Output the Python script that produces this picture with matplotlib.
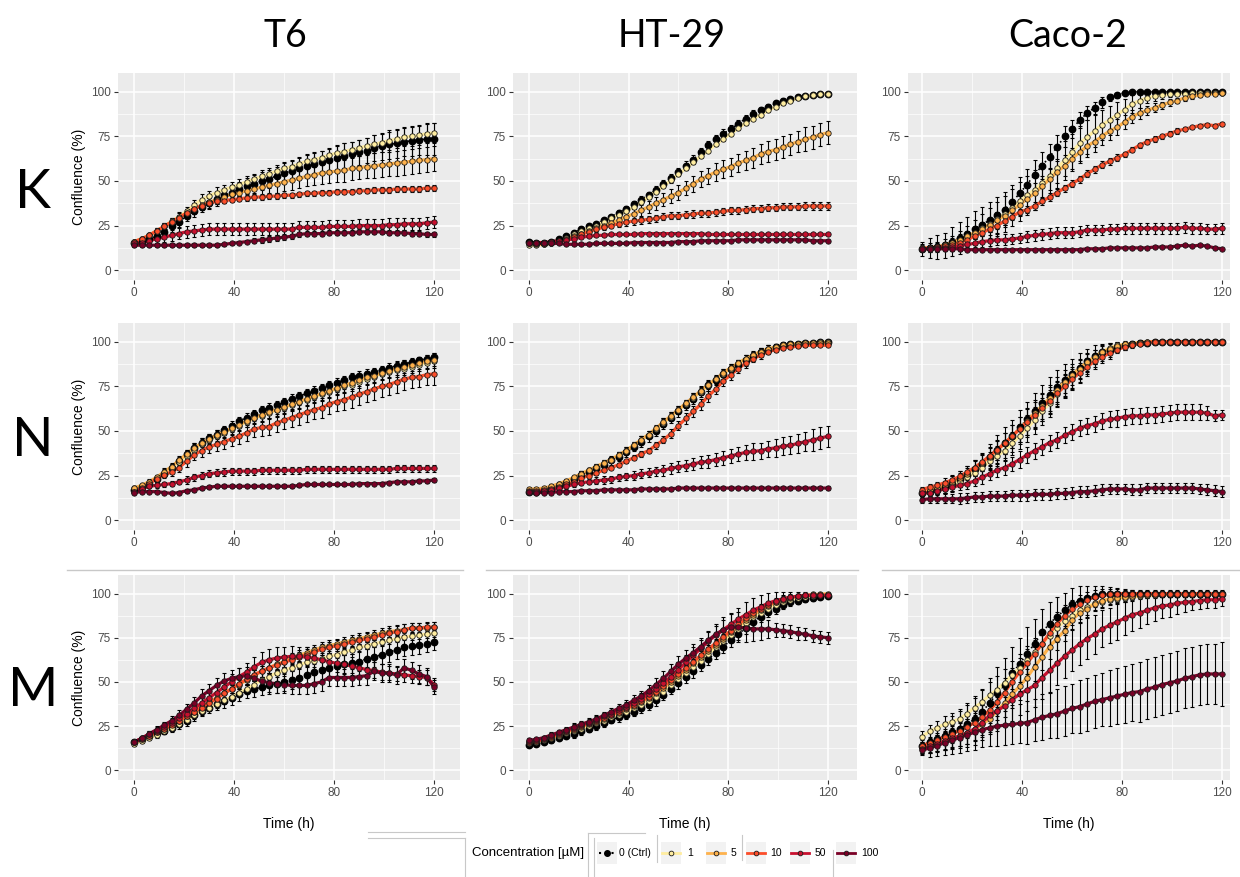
import matplotlib
matplotlib.use("Agg")
import matplotlib.pyplot as plt
import numpy as np

# time points (h)
time_h = [0, 3, 6, 9, 12, 15, 18, 21, 24, 27,
          30, 33, 36, 39, 42, 45, 48, 51, 54, 57,
          60, 63, 66, 69, 72, 75, 78, 81, 84, 87,
          90, 93, 96, 99, 102, 105, 108, 111, 114, 117,
          120]

conc_labels = ['0 (Ctrl)', '1', '5', '10', '50', '100']
conc_colors = ['#000000', '#FFEDA0', '#FEB24C', '#FC4E2A', '#C8102E', '#7A0026']
cell_lines = ['T6', 'HT-29', 'Caco-2']
row_labels = ['K', 'N', 'M']

# ---------------- T6 / K ----------------
t6_k_c0 = [15, 16, 17.5, 19, 21.5, 24.5, 27, 30.5, 33, 35.5,
           37.5, 40, 42, 43.5, 45.5, 47, 48.5, 50, 51, 53,
           54.5, 55.5, 57, 58.5, 59.5, 60.5, 61.5, 63, 64, 65,
           66, 67, 68.5, 69.5, 70.5, 71, 72, 72.5, 73, 73.5,
           73.5]
t6_k_c0_err = [1, 1, 1.5, 2, 2.5, 3, 3, 3, 3, 3,
               3, 3, 3.5, 4, 4, 4.5, 5, 5, 5, 5,
               5.5, 5.5, 6, 6, 6, 6.5, 6.5, 7, 7, 7,
               7, 7, 7.5, 7.5, 8, 8, 8, 8.5, 8.5, 9,
               9]
t6_k_c1 = [16, 17.5, 19.5, 22, 24.5, 27.5, 30, 33, 36.5, 39.5,
           41.5, 43.5, 45, 46.5, 48, 49.5, 51, 52.5, 54, 55.5,
           57, 58, 59.5, 61, 62, 63, 64.5, 65.5, 66.5, 67.5,
           68.5, 69.5, 70.5, 71.5, 72.5, 73.5, 74.5, 75, 75.5, 76.5,
           77]
t6_k_c1_err = [1, 1, 1, 1.5, 2, 2, 2.5, 2.5, 3, 3,
               3, 3, 3, 3, 3, 3, 3, 3.5, 3.5, 3.5,
               3.5, 3.5, 4, 4, 4, 4, 4, 4, 4.5, 4.5,
               4.5, 4.5, 5, 5, 5, 5, 5, 5.5, 5.5, 5.5,
               5.5]
t6_k_c5 = [16, 17.5, 19.5, 22, 24.5, 27, 29.5, 32, 34.5, 36.5,
           38, 39.5, 41, 42.5, 43.5, 44.5, 45.5, 46.5, 47.5, 48.5,
           49.5, 50.5, 51.5, 52.5, 53.5, 54.5, 55, 55.5, 56, 57,
           57.5, 58, 58.5, 59, 59.5, 60, 60.5, 61, 61.5, 62,
           62.5]
t6_k_c5_err = [1, 1, 1, 1.5, 2, 2, 2.5, 2.5, 3, 3,
               3, 3.5, 3.5, 4, 4, 4.5, 4.5, 5, 5, 5,
               5, 5.5, 5.5, 5.5, 6, 6, 6, 6, 6.5, 6.5,
               6.5, 6.5, 7, 7, 7, 7, 7, 7, 7, 7,
               7]
t6_k_c10 = [16, 17.5, 19.5, 22, 24.5, 27, 29.5, 32, 34.5, 36,
            37.5, 38.5, 39, 39.5, 40, 40.5, 41, 41, 41.5, 41.5,
            42, 42, 42.5, 43, 43, 43.5, 43.5, 44, 44, 44,
            44.5, 44.5, 45, 45, 45, 45.5, 45.5, 45.5, 45.5, 46,
            46]
t6_k_c10_err = [1, 1, 1, 1, 1.5, 1.5, 1.5, 1.5, 1.5, 1.5,
                1.5, 1.5, 1.5, 1.5, 1.5, 1.5, 1.5, 1.5, 1.5, 1.5,
                1.5, 1.5, 1.5, 1.5, 1.5, 1.5, 1.5, 1.5, 1.5, 1.5,
                1.5, 1.5, 1.5, 1.5, 1.5, 1.5, 1.5, 1.5, 1.5, 1.5,
                1.5]
t6_k_c50 = [15, 15.5, 16.5, 17.5, 18.5, 19.5, 20.5, 21.5, 22, 22.5,
            23, 23, 23, 23, 23, 23, 23, 23, 23, 23,
            23, 23, 24, 24, 24, 24, 24.5, 24.5, 24.5, 24.5,
            25, 25, 25, 25, 25.5, 25.5, 26, 26, 26, 26.5,
            27]
t6_k_c50_err = [1, 1.5, 2, 2, 2.5, 3, 3, 3.5, 3.5, 3.5,
                3.5, 3.5, 3.5, 3.5, 3.5, 3.5, 3.5, 3.5, 3.5, 3.5,
                3.5, 3.5, 3.5, 3.5, 3.5, 3.5, 3.5, 3.5, 3.5, 3.5,
                3.5, 3.5, 3.5, 3.5, 3.5, 3.5, 3.5, 3.5, 3.5, 3.5,
                3.5]
t6_k_c100 = [14, 14, 14, 14, 14, 14, 14, 14, 14, 14,
             14, 14, 14.5, 15, 15.5, 16, 16.5, 17, 17.5, 18,
             18.5, 19, 20, 20.5, 20.5, 20.5, 21, 21, 21, 21,
             21.5, 21.5, 21.5, 21.5, 21, 21, 21, 20.5, 20.5, 20,
             20]
t6_k_c100_err = [1, 1, 1, 1, 1, 1, 1, 1, 1, 1,
                 1, 1, 1, 1, 1, 1, 1.5, 1.5, 1.5, 1.5,
                 1.5, 1.5, 1.5, 1.5, 1.5, 1.5, 1.5, 1.5, 1.5, 1.5,
                 1.5, 1.5, 1.5, 1.5, 1.5, 1.5, 1.5, 1.5, 1.5, 1.5,
                 1.5]

# ---------------- HT-29 / K ----------------
ht_k_c0 = [16, 15.5, 15.5, 16, 17.5, 19, 21, 23, 24.5, 26,
           28, 30, 32, 34.5, 37, 39.5, 42, 45, 48.5, 51.5,
           55, 58.5, 62, 66, 70, 73.5, 76.5, 79, 82, 85,
           87.5, 89.5, 91.5, 93.5, 95, 96, 97, 97.5, 98, 98.5,
           99]
ht_k_c0_err = [1, 1, 1, 1, 1, 1, 1, 1, 1, 1,
               1, 1, 1.5, 1.5, 1.5, 2, 2, 2, 2, 2.5,
               2.5, 2.5, 2.5, 2.5, 2.5, 2.5, 2.5, 2.5, 2, 2,
               2, 2, 1.5, 1.5, 1.5, 1, 1, 1, 0.5, 0.5,
               0.5]
ht_k_c1 = [14, 14, 14.5, 15.5, 16.5, 18, 20, 22, 23.5, 25,
           27, 29, 31, 33, 35.5, 38, 41, 44, 47, 50.5,
           54, 57, 60.5, 64, 67, 70.5, 73.5, 76.5, 79.5, 82.5,
           85, 87, 89.5, 91.5, 93.5, 95, 96.5, 97.5, 98, 98.5,
           99]
ht_k_c1_err = [0.5, 0.5, 0.5, 0.5, 0.5, 0.5, 1, 1, 1, 1,
               1, 1, 1, 1, 1, 1, 1, 1, 1, 1,
               1, 1, 1, 1, 1, 1, 1, 1, 1, 1,
               1, 1, 1, 1, 1, 1, 0.5, 0.5, 0.5, 0.5,
               0.5]
ht_k_c5 = [15, 14.5, 14.5, 15, 16, 17.5, 19, 20.5, 22, 23.5,
           25, 26.5, 28, 30, 31.5, 33.5, 35.5, 37.5, 39.5, 41.5,
           43.5, 46, 48.5, 51, 53, 55, 56.5, 58, 60, 61.5,
           63, 65, 66.5, 67.5, 69, 70.5, 72, 73.5, 74.5, 76,
           77]
ht_k_c5_err = [0.5, 0.5, 0.5, 0.5, 1, 1, 1, 1, 1.5, 1.5,
               2, 2, 2.5, 2.5, 3, 3, 3.5, 3.5, 3.5, 4,
               4, 4, 4.5, 4.5, 4.5, 5, 5, 5, 5, 5.5,
               5.5, 5.5, 6, 6, 6, 6, 6, 6.5, 6.5, 6.5,
               6.5]
ht_k_c10 = [15, 15, 15, 15.5, 16, 17, 18.5, 20, 21.5, 23,
            24, 25, 26, 27, 27.5, 28, 28.5, 29, 30, 30.5,
            30.5, 31, 31.5, 32, 32, 32.5, 33, 33.5, 33.5, 34,
            34.5, 34.5, 35, 35, 35.5, 35.5, 35.5, 36, 36, 36,
            36]
ht_k_c10_err = [0.5, 0.5, 0.5, 0.5, 1, 1, 1, 1, 1.5, 1.5,
                1.5, 1.5, 2, 2, 2, 2, 2, 2, 2, 2,
                2, 2, 2, 2, 2, 2, 2, 2, 2, 2,
                2, 2, 2, 2, 2, 2, 2, 2, 2, 2,
                2]
ht_k_c50 = [15, 15.5, 15.5, 16, 16.5, 17, 17.5, 18.5, 19, 19.5,
            19.5, 20, 20, 20, 20, 20.5, 20.5, 20.5, 20.5, 20.5,
            20.5, 20.5, 20.5, 20.5, 20, 20, 20, 20, 20, 20,
            20, 20, 20, 20, 20, 20, 20, 20, 20, 20,
            20]
ht_k_c50_err = [0.5, 0.5, 0.5, 0.5, 0.5, 0.5, 0.5, 0.5, 0.5, 0.5,
                0.5, 0.5, 0.5, 0.5, 0.5, 0.5, 0.5, 0.5, 0.5, 0.5,
                0.5, 0.5, 0.5, 0.5, 0.5, 0.5, 0.5, 0.5, 0.5, 0.5,
                0.5, 0.5, 0.5, 0.5, 0.5, 0.5, 0.5, 0.5, 0.5, 0.5,
                0.5]
ht_k_c100 = [15, 15, 15, 15, 15, 14.5, 14.5, 14.5, 14.5, 15,
             15, 15, 15, 15, 15.5, 15.5, 15.5, 15.5, 15.5, 15.5,
             16, 16, 16, 16.5, 16.5, 16.5, 16.5, 16.5, 17, 17,
             17, 17, 17, 17, 17, 17, 17, 17, 16.5, 16.5,
             16.5]
ht_k_c100_err = [0.5, 0.5, 0.5, 0.5, 0.5, 0.5, 0.5, 0.5, 0.5, 0.5,
                 0.5, 0.5, 0.5, 0.5, 0.5, 0.5, 0.5, 0.5, 0.5, 0.5,
                 0.5, 0.5, 0.5, 0.5, 0.5, 0.5, 0.5, 0.5, 0.5, 0.5,
                 0.5, 0.5, 0.5, 0.5, 0.5, 0.5, 0.5, 0.5, 0.5, 0.5,
                 0.5]

# ---------------- Caco-2 / K ----------------
ca_k_c0 = [12, 12.5, 13, 14, 16, 18, 20.5, 23, 25.5, 28,
           31, 34, 38, 43, 48, 53.5, 58.5, 63.5, 69, 75,
           79, 84, 88, 91, 94, 97, 98, 99.5, 100, 100,
           100, 100, 100, 100, 100, 100, 100, 100, 100, 100,
           100]
ca_k_c0_err = [4, 5.5, 6.5, 7, 8, 9, 9.5, 10, 10, 10,
               10, 10, 9.5, 9, 8.5, 8, 7.5, 7, 6.5, 6,
               5, 4.5, 4, 3.5, 3, 2, 1.5, 1, 0.5, 0.5,
               0.5, 0.5, 0.5, 0.5, 0.5, 0.5, 0.5, 0.5, 0.5, 0.5,
               0.5]
ca_k_c1 = [12.5, 12.5, 13, 14, 15, 17, 19, 21, 23.5, 26,
           28.5, 31.5, 35, 38.5, 42, 45, 49, 53, 57, 61.5,
           66, 71, 74.5, 78, 81.5, 84, 87, 90, 93, 95,
           96.5, 97.5, 98, 98.5, 99, 99, 99.5, 99.5, 99.5, 99.5,
           99.5]
ca_k_c1_err = [2, 2.5, 3, 3.5, 4, 5, 6, 7, 8, 9,
               9.5, 10, 10.5, 11, 11, 11, 11, 11, 11, 11,
               10.5, 10, 9.5, 9, 8.5, 8, 7, 6, 5, 4,
               3, 2.5, 2, 1.5, 1, 1, 1, 1, 1, 1,
               1]
ca_k_c5 = [12.5, 12.5, 13, 14, 15.5, 17, 19, 21, 23, 25.5,
           28, 30.5, 33.5, 36.5, 40, 43, 47, 51, 55, 58.5,
           62.5, 66, 69.5, 72, 75, 78, 80, 83, 86, 88,
           89.5, 91, 92.5, 94, 95, 96.5, 97.5, 98, 98.5, 99,
           99.5]
ca_k_c5_err = [1.5, 1.5, 2, 2, 2.5, 3, 3, 3.5, 4, 4,
               4.5, 5, 5, 5.5, 6, 6, 6, 6, 6, 6,
               6, 6, 6, 5.5, 5, 5, 4.5, 4, 3.5, 3,
               2.5, 2.5, 2, 2, 1.5, 1.5, 1.5, 1, 1, 1,
               1]
ca_k_c10 = [12, 12.5, 13, 13.5, 14, 15.5, 17, 19, 21, 23,
            25, 27.5, 30, 32.5, 34, 36, 38.5, 41, 43.5, 46,
            48.5, 51, 54, 56.5, 59, 61, 63, 65, 67.5, 70,
            72, 73.5, 75, 76.5, 78, 79, 80, 81, 81.5, 81,
            82]
ca_k_c10_err = [1, 1, 1, 1, 1, 1, 1.5, 1.5, 1.5, 1.5,
                2, 2, 2, 2, 2, 2, 2, 2, 2, 2,
                2, 2, 2, 2, 2, 2, 2, 1.5, 1.5, 1.5,
                1.5, 1.5, 1.5, 1.5, 1.5, 1, 1, 1, 1, 1,
                1]
ca_k_c50 = [12, 12, 12.5, 12.5, 13, 13.5, 14.5, 15, 16, 16.5,
            17, 17, 17.5, 18, 19, 19.5, 20, 20.5, 21, 21,
            21, 21.5, 22.5, 22.5, 22.5, 23, 23, 23.5, 23.5, 23.5,
            23.5, 23.5, 23.5, 23.5, 23.5, 24, 23.5, 23.5, 23, 23,
            23.5]
ca_k_c50_err = [1.5, 2, 2, 2, 2.5, 2.5, 2.5, 3, 3, 3,
                3, 3, 3, 3, 3, 3, 3, 3, 3, 3,
                3, 3, 3, 3, 3, 3, 3, 3, 3, 3,
                3, 3, 3, 3, 3, 3, 3, 3, 3, 3,
                3]
ca_k_c100 = [12, 12, 12, 12, 12, 12, 11.5, 11.5, 11.5, 11.5,
             11.5, 11.5, 11.5, 11.5, 11.5, 11.5, 11.5, 11.5, 11.5, 11.5,
             11.5, 11.5, 12, 12, 12, 12.5, 12.5, 12.5, 12.5, 12.5,
             12.5, 13, 13, 13, 13.5, 14, 13.5, 14, 13.5, 12.5,
             12]
ca_k_c100_err = [0.5, 0.5, 0.5, 0.5, 0.5, 0.5, 0.5, 0.5, 0.5, 0.5,
                 0.5, 0.5, 0.5, 0.5, 0.5, 0.5, 0.5, 0.5, 0.5, 0.5,
                 0.5, 0.5, 0.5, 0.5, 0.5, 0.5, 0.5, 0.5, 0.5, 0.5,
                 0.5, 0.5, 0.5, 0.5, 0.5, 0.5, 0.5, 0.5, 0.5, 0.5,
                 0.5]

# ---------------- T6 / N ----------------
t6_n_c0 = [17, 18.5, 20.5, 23, 26, 29.5, 33, 37, 40.5, 43.5,
           46, 48, 50.5, 53, 55.5, 57.5, 59.5, 61.5, 63, 64.5,
           66, 68, 69.5, 71, 72.5, 74, 75.5, 77, 78.5, 80,
           81, 82, 83, 84, 85.5, 86.5, 87.5, 88.5, 89.5, 90.5,
           91.5]
t6_n_c0_err = [1, 1.5, 1.5, 2, 2, 2, 2.5, 2.5, 2.5, 2.5,
               2.5, 2.5, 2.5, 2.5, 2.5, 2.5, 2.5, 2.5, 2.5, 2.5,
               2.5, 2.5, 2.5, 2.5, 2.5, 2.5, 2.5, 2.5, 2.5, 2.5,
               2.5, 2.5, 2.5, 2.5, 2.5, 2.5, 2.5, 2.5, 2, 2,
               2]
t6_n_c1 = [18, 19, 21, 23.5, 26.5, 29.5, 32.5, 36, 39.5, 42.5,
           45, 47, 49, 51, 53, 55, 57, 58.5, 60, 61.5,
           63, 64.5, 66, 67.5, 69, 70.5, 72, 73.5, 75, 76,
           77.5, 79, 80.5, 82, 83, 84, 85, 86, 87, 88,
           89]
t6_n_c1_err = [1, 1, 1.5, 1.5, 2, 2, 2.5, 2.5, 3, 3,
               3, 3, 3, 3, 3, 3, 3, 3.5, 3.5, 3.5,
               3.5, 3.5, 3.5, 3.5, 3.5, 3.5, 3.5, 3.5, 3.5, 3.5,
               3.5, 3.5, 3.5, 3.5, 3.5, 3.5, 3.5, 3.5, 3.5, 3.5,
               3.5]
t6_n_c5 = [18, 19.5, 21.5, 24, 27, 30, 33.5, 37, 40.5, 43,
           45.5, 47.5, 49.5, 51.5, 53.5, 55.5, 57.5, 59, 60.5, 62,
           63.5, 65, 66.5, 68, 69.5, 71, 72.5, 74, 75.5, 77,
           78.5, 80, 81, 82.5, 83.5, 85, 86, 87, 88, 89,
           90]
t6_n_c5_err = [1, 1, 1.5, 1.5, 2, 2, 2.5, 2.5, 3, 3,
               3, 3, 3, 3, 3, 3, 3, 3.5, 3.5, 3.5,
               3.5, 3.5, 3.5, 3.5, 3.5, 3.5, 3.5, 3.5, 3.5, 3.5,
               3.5, 3.5, 3.5, 3.5, 3.5, 3.5, 3.5, 3.5, 3.5, 3.5,
               3.5]
t6_n_c10 = [16, 18, 20.5, 23, 25.5, 27, 29.5, 33, 36.5, 39,
            41, 42.5, 44, 45.5, 47, 49, 51, 52, 52.5, 54.5,
            56, 57.5, 59, 60.5, 62, 63, 65, 66.5, 67.5, 69,
            70.5, 72, 73.5, 75, 76, 77.5, 79, 80, 80.5, 81.5,
            82]
t6_n_c10_err = [1, 1, 1.5, 1.5, 2, 2, 2.5, 3, 3, 3.5,
                3.5, 4, 4, 4, 4.5, 4.5, 4.5, 5, 5, 5,
                5, 5, 5.5, 5.5, 5.5, 5.5, 5.5, 5.5, 6, 6,
                6, 6, 6, 6, 6, 6, 6, 6, 6, 6,
                6]
t6_n_c50 = [16, 17.5, 19, 19.5, 20, 20.5, 21.5, 22.5, 24, 25,
            26, 26.5, 27, 27.5, 27.5, 27.5, 27.5, 28, 28, 28,
            28, 28, 28, 28.5, 28.5, 28.5, 28.5, 28.5, 28.5, 28.5,
            28.5, 28.5, 28.5, 28.5, 28.5, 29, 29, 29, 29, 29,
            29]
t6_n_c50_err = [1, 1, 1, 1.5, 1.5, 1.5, 1.5, 2, 2, 2,
                2, 2, 2, 2, 2, 2, 2, 2, 2, 2,
                2, 2, 2, 2, 2, 2, 2, 2, 2, 2,
                2, 2, 2, 2, 2, 2, 2, 2, 2, 2,
                2]
t6_n_c100 = [15.5, 16, 16, 16, 15.5, 15, 15.5, 16.5, 17, 18,
             18.5, 19, 19, 19, 19, 19, 19, 19, 19, 19,
             19, 19, 19.5, 20, 20, 20, 20, 20, 20, 20,
             20.5, 20.5, 20.5, 20.5, 21, 21.5, 21.5, 21.5, 22, 22,
             22.5]
t6_n_c100_err = [1, 1, 1, 1, 1, 1, 1, 1, 1, 1,
                 1, 1, 1, 1, 1, 1, 1, 1, 1, 1,
                 1, 1, 1, 1, 1, 1, 1, 1, 1, 1,
                 1, 1, 1, 1, 1, 1, 1, 1, 1, 1,
                 1]

# ---------------- HT-29 / N ----------------
ht_n_c0 = [16, 16, 16.5, 17.5, 19, 21, 23, 25.5, 27, 29,
           31, 33.5, 35.5, 38, 41, 44, 47, 50, 54, 57.5,
           61, 64.5, 68, 72, 75.5, 78.5, 82, 84.5, 87, 89.5,
           92, 94, 95.5, 97, 98, 98.5, 99, 99.5, 99.5, 100,
           100]
ht_n_c0_err = [1, 1, 1, 1.5, 1.5, 1.5, 2, 2, 2, 2,
               2, 2.5, 2.5, 2.5, 2.5, 3, 3, 3, 3, 3,
               3, 3, 3, 3, 3, 3, 3, 3, 3, 3,
               3, 2.5, 2.5, 2, 2, 1.5, 1, 1, 0.5, 0.5,
               0.5]
ht_n_c1 = [17, 17, 17.5, 18.5, 20, 21.5, 23.5, 26, 28, 30,
           32, 34, 36.5, 39, 42, 45, 48, 51, 54.5, 58,
           61.5, 65, 68.5, 72, 75.5, 79, 82, 85, 88, 90.5,
           92.5, 94.5, 96, 97, 98, 98.5, 99, 99.5, 99.5, 100,
           100]
ht_n_c1_err = [0.5, 0.5, 0.5, 1, 1, 1, 1, 1.5, 1.5, 1.5,
               1.5, 1.5, 1.5, 2, 2, 2, 2, 2, 2, 2,
               2, 2, 2, 2, 2, 2, 2, 2, 2, 2,
               2, 2, 2, 1.5, 1.5, 1, 1, 0.5, 0.5, 0.5,
               0.5]
ht_n_c5 = [17.5, 17.5, 18, 19, 20.5, 22, 24, 26, 28, 30,
           32, 34, 36.5, 39, 42, 45, 48, 51.5, 55, 58.5,
           62, 65.5, 69, 72.5, 76, 79, 82.5, 85.5, 88, 90.5,
           92.5, 94.5, 96, 97, 98, 98.5, 99, 99.5, 99.5, 99.5,
           99.5]
ht_n_c5_err = [0.5, 0.5, 0.5, 1, 1, 1, 1, 1.5, 1.5, 1.5,
               1.5, 1.5, 1.5, 2, 2, 2, 2, 2, 2, 2,
               2, 2, 2, 2, 2, 2, 2, 2, 2, 2,
               2, 2, 2, 1.5, 1.5, 1, 1, 0.5, 0.5, 0.5,
               0.5]
ht_n_c10 = [16.5, 16.5, 17, 17.5, 18.5, 20, 21.5, 23.5, 25, 26.5,
            28, 29.5, 31, 33, 35, 37, 39, 42, 45, 48.5,
            53, 57, 61, 65, 69.5, 73.5, 78, 81.5, 85, 88,
            90.5, 92.5, 94.5, 95.5, 96.5, 97, 97.5, 98, 98, 98,
            98]
ht_n_c10_err = [0.5, 0.5, 0.5, 1, 1, 1, 1, 1, 1, 1,
                1, 1, 1, 1, 1.5, 1.5, 1.5, 2, 2, 2.5,
                2.5, 3, 3, 3, 3, 3, 3, 3, 2.5, 2.5,
                2, 2, 1.5, 1.5, 1, 1, 1, 1, 0.5, 0.5,
                0.5]
ht_n_c50 = [16, 16, 16.5, 17, 18, 19, 20, 21, 21.5, 22,
            22.5, 23, 24, 24.5, 25, 26, 26.5, 27.5, 28, 29,
            30, 30.5, 31.5, 32.5, 33, 34, 35, 36, 37, 38,
            38.5, 39, 40, 40.5, 41.5, 42, 43, 44, 45, 46,
            47]
ht_n_c50_err = [1, 1, 1, 1, 1, 1.5, 1.5, 1.5, 1.5, 2,
                2, 2, 2, 2, 2.5, 2.5, 2.5, 2.5, 3, 3,
                3, 3, 3.5, 3.5, 3.5, 3.5, 4, 4, 4, 4,
                4.5, 4.5, 4.5, 5, 5, 5, 5.5, 5.5, 6, 6,
                6]
ht_n_c100 = [16, 15.5, 15.5, 15.5, 16, 16, 16, 16.5, 16.5, 16.5,
             17, 17, 17, 17, 17, 17.5, 17.5, 17.5, 17.5, 17.5,
             18, 18, 18, 18, 18, 18, 18, 18, 18, 18,
             18, 18, 18, 18, 18, 18, 18, 18, 18, 18,
             18]
ht_n_c100_err = [1, 1, 1, 1, 1, 1, 1, 1, 1, 1,
                 1, 1, 1, 1, 1, 1, 1, 1, 1, 1,
                 1, 1, 1, 1, 1, 1, 1, 1, 1, 1,
                 1, 1, 1, 1, 1, 1, 1, 1, 1, 1,
                 1]

# ---------------- Caco-2 / N ----------------
ca_n_c0 = [15, 16, 17, 18.5, 20.5, 23, 25.5, 28.5, 31.5, 35.5,
           39.5, 43.5, 47, 52, 56.5, 61, 65.5, 70, 74.5, 78.5,
           82, 85.5, 89, 92, 94, 95.5, 97, 98, 98.5, 99.5,
           99.5, 100, 100, 100, 100, 100, 100, 100, 100, 100,
           100]
ca_n_c0_err = [2, 2.5, 3, 3.5, 4, 4.5, 5, 5.5, 6, 7,
               8, 8.5, 9, 9.5, 10, 10, 10, 10, 9.5, 9,
               8.5, 8, 7, 6, 5, 4, 3, 2.5, 2, 1.5,
               1, 1, 0.5, 0.5, 0.5, 0.5, 0.5, 0.5, 0.5, 0.5,
               0.5]
ca_n_c1 = [15, 15.5, 16.5, 17.5, 19.5, 21.5, 24, 26.5, 29.5, 33,
           36, 39, 43, 47, 51.5, 56, 61, 65.5, 70.5, 75.5,
           80, 84.5, 88, 91.5, 94.5, 96.5, 98, 98.5, 99, 99.5,
           100, 100, 100, 100, 100, 100, 100, 100, 100, 100,
           100]
ca_n_c1_err = [1.5, 2, 2, 2.5, 3, 3, 3.5, 4, 4.5, 5,
               5.5, 6, 6.5, 7, 7.5, 7.5, 7.5, 7.5, 7, 6.5,
               6, 5.5, 5, 4, 3.5, 3, 2, 1.5, 1, 1,
               0.5, 0.5, 0.5, 0.5, 0.5, 0.5, 0.5, 0.5, 0.5, 0.5,
               0.5]
ca_n_c5 = [16, 17, 18, 19.5, 21.5, 23.5, 26, 29, 32, 35.5,
           39, 43, 47, 51, 55.5, 60, 64, 68.5, 73, 77.5,
           81.5, 85, 88.5, 91.5, 94, 96, 97.5, 98.5, 99, 99.5,
           100, 100, 100, 100, 100, 100, 100, 100, 100, 100,
           100]
ca_n_c5_err = [1.5, 2, 2, 2.5, 3, 3, 3.5, 4, 4.5, 5,
               5.5, 6, 6.5, 7, 7.5, 7.5, 7.5, 7.5, 7, 6.5,
               6, 5.5, 5, 4, 3.5, 3, 2, 1.5, 1, 1,
               0.5, 0.5, 0.5, 0.5, 0.5, 0.5, 0.5, 0.5, 0.5, 0.5,
               0.5]
ca_n_c10 = [17, 18.5, 19.5, 21, 22.5, 24.5, 27, 29.5, 32.5, 36,
            39.5, 43, 47, 51, 55, 59, 63, 67, 71, 75,
            79, 82.5, 86, 89, 91.5, 93.5, 95.5, 97, 98, 99,
            99.5, 100, 100, 100, 100, 100, 100, 100, 100, 100,
            100]
ca_n_c10_err = [1.5, 2, 2, 2.5, 3, 3, 3.5, 4, 4.5, 5,
                5.5, 6, 6.5, 7, 7.5, 7.5, 7.5, 7.5, 7, 6.5,
                6, 5.5, 5, 4, 3.5, 3, 2, 1.5, 1, 1,
                0.5, 0.5, 0.5, 0.5, 0.5, 0.5, 0.5, 0.5, 0.5, 0.5,
                0.5]
ca_n_c50 = [15, 15.5, 16.5, 17.5, 18.5, 19.5, 20.5, 22, 24, 26,
            28, 29.5, 31.5, 34, 36.5, 39, 41, 43.5, 45, 47.5,
            49.5, 51.5, 53, 54, 55.5, 56.5, 57, 58, 58.5, 58.5,
            59, 59, 59.5, 60, 60.5, 60.5, 60.5, 60.5, 60, 58.5,
            59]
ca_n_c50_err = [1.5, 1.5, 2, 2, 2.5, 2.5, 3, 3, 3.5, 3.5,
                4, 4, 4, 4.5, 4.5, 4.5, 4.5, 4.5, 4.5, 4.5,
                4.5, 4.5, 4.5, 4.5, 4.5, 4.5, 4.5, 4.5, 4.5, 4.5,
                4.5, 4.5, 4.5, 4.5, 4.5, 4.5, 4.5, 4.5, 4, 3,
                3]
ca_n_c100 = [11.5, 12, 12, 12, 12, 12, 12.5, 13, 13, 13.5,
             13.5, 13.5, 14, 14, 14, 14.5, 14.5, 14.5, 15, 15,
             15.5, 16, 16, 16.5, 17, 17.5, 17.5, 17.5, 17, 17,
             18, 18, 18, 18, 18, 18, 18, 17.5, 17, 16.5,
             16]
ca_n_c100_err = [2, 2.5, 2.5, 2.5, 2.5, 3, 3, 3, 3, 3,
                 3, 3, 3, 3, 3, 3, 3, 3, 3, 3,
                 3, 3, 3, 3, 3, 3, 3, 3, 3, 3,
                 3, 3, 3, 3, 3, 3, 3, 3, 3, 3,
                 3]

# ---------------- T6 / M ----------------
t6_m_c0 = [16, 17.5, 19.5, 21, 22.5, 24, 26, 28, 31, 33.5,
           35.5, 37.5, 39, 41, 43, 45, 46, 47, 48, 49,
           50, 51, 52.5, 54, 55.5, 57, 58, 59, 60, 60.5,
           61.5, 63, 64, 65.5, 67, 68, 69.5, 70.5, 71, 71.5,
           72.5]
t6_m_c0_err = [1, 1.5, 1.5, 2, 2, 2.5, 2.5, 3, 3, 3,
               3, 3.5, 3.5, 4, 4, 4, 4.5, 4.5, 5, 5,
               5, 5, 5.5, 5.5, 5.5, 5.5, 5.5, 5.5, 5.5, 5.5,
               5.5, 5.5, 5.5, 5.5, 5.5, 5, 5, 5, 5, 4.5,
               4.5]
t6_m_c1 = [15, 16.5, 18, 20, 22, 24, 26, 28.5, 31, 33.5,
           35.5, 37.5, 39.5, 41.5, 44, 46, 48.5, 51, 53, 55,
           56.5, 58, 59.5, 61, 62, 63, 64.5, 65.5, 67, 68,
           69.5, 70.5, 71.5, 72.5, 73.5, 74.5, 75.5, 76, 76.5, 77,
           77.5]
t6_m_c1_err = [1, 1, 1, 1.5, 1.5, 1.5, 1.5, 2, 2, 2,
               2, 2, 2, 2, 2, 2, 2, 2, 2, 2,
               2, 2, 2, 2, 2, 2, 2, 2, 2, 2,
               2, 2, 2, 2, 2, 2, 2, 2, 2, 2,
               2]
t6_m_c5 = [16, 17.5, 19.5, 21.5, 23.5, 26, 28, 30.5, 33, 36,
           38.5, 41, 43.5, 46, 48.5, 51, 53.5, 56, 58, 60,
           61.5, 63.5, 65, 66.5, 68, 69.5, 70.5, 71.5, 72.5, 73.5,
           74.5, 75.5, 76.5, 77.5, 78.5, 79, 79.5, 80.5, 80.5, 80.5,
           81]
t6_m_c5_err = [1, 1, 1.5, 1.5, 1.5, 2, 2, 2, 2, 2,
               2, 2.5, 2.5, 2.5, 2.5, 2.5, 3, 3, 3, 3,
               3, 3, 3, 3, 3, 3, 3, 3, 3, 3,
               3, 3, 3, 3, 3, 3, 3, 3, 3, 3,
               3]
t6_m_c10 = [16, 17.5, 19.5, 21.5, 23.5, 25.5, 28, 30.5, 33, 35.5,
            38, 40.5, 43.5, 46, 49, 51.5, 54, 56, 58, 59.5,
            61, 62.5, 64, 65.5, 67, 68.5, 69.5, 70.5, 71.5, 72.5,
            73.5, 74.5, 75.5, 76.5, 77.5, 78.5, 79.5, 80.5, 80.5, 81,
            81]
t6_m_c10_err = [1, 1, 1.5, 1.5, 1.5, 2, 2, 2, 2, 2,
                2, 2.5, 2.5, 2.5, 2.5, 2.5, 3, 3, 3, 3,
                3, 3, 3, 3, 3, 3, 3, 3, 3, 3,
                3, 3, 3, 3, 3, 3, 3, 3, 3, 3,
                3]
t6_m_c50 = [16, 18, 20.5, 22.5, 24.5, 27, 29.5, 32, 35, 38,
            41, 44, 47, 50, 53, 55.5, 58.5, 61, 62.5, 63.5,
            64, 64.5, 64.5, 64, 63.5, 62.5, 61.5, 60.5, 60, 59,
            58, 57, 56.5, 55.5, 55, 54.5, 54, 53.5, 53, 52.5,
            48.5]
t6_m_c50_err = [1, 1.5, 1.5, 2, 2, 2.5, 2.5, 3, 3, 3.5,
                3.5, 4, 4, 4.5, 5, 5, 5.5, 6, 6, 6,
                6, 6, 5.5, 5.5, 5, 5, 5, 5, 5, 5,
                4.5, 4.5, 4.5, 4.5, 4, 4, 4, 4, 4, 4,
                3.5]
t6_m_c100 = [16, 18, 20.5, 23, 25.5, 28, 31, 34.5, 38, 42,
             45, 48, 50.5, 52, 53, 53.5, 52, 50.5, 49.5, 49,
             48.5, 48, 48, 48, 49, 50, 52.5, 52.5, 52.5, 52.5,
             53, 53.5, 56, 55, 55, 54, 58, 56.5, 54.5, 53,
             47]
t6_m_c100_err = [1, 1.5, 1.5, 2, 2, 2.5, 3, 3, 3.5, 4,
                 4, 4.5, 4.5, 5, 5, 5, 5, 5, 5, 5,
                 5, 5, 5, 5, 5, 5, 5, 5, 5, 5,
                 5, 5, 5, 5, 5, 5, 5, 5, 5, 5,
                 4]

# ---------------- HT-29 / M ----------------
ht_m_c0 = [14.5, 15, 16, 17, 18.5, 19.5, 20.5, 22, 23.5, 25,
           26.5, 28.5, 30, 31.5, 33, 35, 37, 39.5, 42.5, 46,
           49.5, 53, 56, 59.5, 63, 66.5, 70, 73.5, 77, 80.5,
           84, 87, 89.5, 91.5, 93.5, 95, 96, 97, 97.5, 98,
           98.5]
ht_m_c0_err = [1, 1, 1, 1.5, 1.5, 1.5, 2, 2, 2, 2,
               2, 2, 2.5, 2.5, 2.5, 2.5, 3, 3, 3, 3,
               3.5, 3.5, 3.5, 3.5, 3.5, 3.5, 3.5, 3.5, 3.5, 3.5,
               3.5, 3, 3, 3, 2.5, 2, 2, 1.5, 1.5, 1,
               1]
ht_m_c1 = [15.5, 16, 17, 18, 19.5, 21, 22, 23.5, 25, 26.5,
           28, 30, 31.5, 33, 35, 37, 39, 41.5, 44.5, 48,
           51.5, 55, 58.5, 62, 66, 69.5, 73, 76.5, 80, 83.5,
           86.5, 89, 91.5, 93.5, 95, 96.5, 97.5, 98, 98.5, 99,
           99]
ht_m_c1_err = [1, 1, 1, 1, 1, 1.5, 1.5, 1.5, 1.5, 1.5,
               1.5, 1.5, 2, 2, 2, 2, 2, 2, 2.5, 2.5,
               2.5, 2.5, 2.5, 2.5, 2.5, 2.5, 2.5, 2.5, 2.5, 2.5,
               2.5, 2.5, 2, 2, 2, 1.5, 1.5, 1, 1, 1,
               1]
ht_m_c5 = [16, 16.5, 17.5, 18.5, 20, 21.5, 23, 24.5, 26, 27.5,
           29, 31, 32.5, 34.5, 36.5, 38.5, 41, 43.5, 46.5, 50,
           53.5, 57, 60.5, 64, 67.5, 71, 74.5, 78, 81.5, 85,
           88, 90.5, 93, 95, 96.5, 97.5, 98.5, 99, 99.5, 99.5,
           100]
ht_m_c5_err = [1, 1, 1, 1, 1, 1.5, 1.5, 1.5, 1.5, 1.5,
               1.5, 1.5, 2, 2, 2, 2, 2, 2, 2.5, 2.5,
               2.5, 2.5, 2.5, 2.5, 2.5, 2.5, 2.5, 2.5, 2.5, 2.5,
               2.5, 2.5, 2, 2, 2, 1.5, 1.5, 1, 1, 1,
               1]
ht_m_c10 = [16, 16.5, 17.5, 19, 20.5, 22, 23.5, 25, 26.5, 28,
            29.5, 31.5, 33, 35, 37, 39, 41.5, 44.5, 47.5, 51,
            54.5, 58, 61.5, 65, 68.5, 72, 75.5, 79, 82.5, 86,
            89, 91.5, 93.5, 95.5, 97, 98, 98.5, 99, 99, 99,
            99]
ht_m_c10_err = [1, 1, 1, 1, 1, 1.5, 1.5, 1.5, 1.5, 1.5,
                1.5, 1.5, 2, 2, 2, 2, 2, 2, 2.5, 2.5,
                2.5, 2.5, 2.5, 2.5, 2.5, 2.5, 2.5, 2.5, 2.5, 2.5,
                2.5, 2.5, 2, 2, 2, 1.5, 1.5, 1, 1, 1,
                1]
ht_m_c50 = [16.5, 17, 18, 19.5, 21, 22.5, 24, 25.5, 27, 28.5,
            30.5, 32, 34, 36, 38, 40.5, 43, 46, 49.5, 53,
            57, 61, 65, 69, 73, 76.5, 79.5, 82.5, 85.5, 88,
            90.5, 92.5, 94.5, 96, 97, 98, 98.5, 99, 99, 99,
            99]
ht_m_c50_err = [1, 1, 1, 1.5, 1.5, 1.5, 2, 2, 2, 2,
                2, 2, 2.5, 2.5, 2.5, 3, 3, 3.5, 3.5, 4,
                4, 4, 4.5, 4.5, 5, 5, 5.5, 6, 6.5, 7,
                7, 6.5, 6, 5, 4, 3, 2.5, 2, 1.5, 1,
                1]
ht_m_c100 = [17, 17.5, 18.5, 20, 21.5, 23, 24.5, 26, 27.5, 29,
             31, 33, 35, 37, 39.5, 42, 45, 48.5, 52, 56,
             60, 63.5, 66.5, 70, 73.5, 77, 79.5, 81, 81, 80.5,
             80, 80, 80, 79.5, 79, 78.5, 77.5, 77, 76, 75.5,
             75]
ht_m_c100_err = [1, 1, 1, 1.5, 1.5, 1.5, 2, 2, 2, 2,
                 2, 2.5, 2.5, 2.5, 3, 3, 3.5, 3.5, 4, 4,
                 4.5, 4.5, 5, 5, 5.5, 6, 7, 8, 8.5, 8,
                 7, 6, 5, 4, 3.5, 3.5, 3.5, 3.5, 3.5, 3.5,
                 3.5]

# ---------------- Caco-2 / M ----------------
ca_m_c0 = [14, 16, 17.5, 19.5, 21.5, 23.5, 26, 29, 33, 38,
           43.5, 48.5, 55, 60, 66, 71.5, 78, 83, 87, 90.5,
           94, 96, 97.5, 98.5, 99.5, 99.5, 100, 100, 100, 100,
           100, 100, 100, 100, 100, 100, 100, 100, 100, 100,
           100]
ca_m_c0_err = [5, 6, 7, 8, 9, 10, 11, 12, 13, 14,
               15, 15, 15, 15, 15, 14, 13, 12, 11, 10,
               9, 8, 7, 6, 5, 4, 3, 2.5, 2, 2,
               2, 2, 2, 2, 2, 2, 2, 2, 2, 2,
               2]
ca_m_c1 = [19, 22, 24, 26, 27.5, 29, 32, 35.5, 38.5, 42.5,
           45.5, 49.5, 54, 58, 62.5, 67, 71.5, 76, 80.5, 84.5,
           87.5, 90.5, 92.5, 94.5, 95.5, 96.5, 97, 97.5, 98, 98.5,
           99, 99, 99.5, 99.5, 99.5, 99.5, 99.5, 99.5, 99.5, 99.5,
           99.5]
ca_m_c1_err = [3, 3.5, 4, 4.5, 5, 5.5, 6, 6.5, 7, 7.5,
               8, 8, 8, 8, 8, 8, 7.5, 7, 6.5, 6,
               5.5, 5, 4.5, 4, 3.5, 3, 2.5, 2, 2, 1.5,
               1.5, 1.5, 1.5, 1.5, 1.5, 1.5, 1.5, 1.5, 1.5, 1.5,
               1.5]
ca_m_c5 = [13, 13.5, 15, 16.5, 18, 19.5, 21, 23, 26, 29,
           33.5, 38, 43, 47.5, 52.5, 58.5, 64, 70, 74.5, 79,
           85, 89, 91.5, 94, 96, 97, 97.5, 98, 98.5, 99,
           99, 99.5, 99.5, 99.5, 99.5, 99.5, 99.5, 99.5, 99.5, 99.5,
           99.5]
ca_m_c5_err = [3, 3.5, 4, 4.5, 5, 5.5, 6, 6.5, 7, 7.5,
               8, 8, 8, 8, 8, 8, 7.5, 7, 6.5, 6,
               5.5, 5, 4.5, 4, 3.5, 3, 2.5, 2, 2, 1.5,
               1.5, 1.5, 1.5, 1.5, 1.5, 1.5, 1.5, 1.5, 1.5, 1.5,
               1.5]
ca_m_c10 = [14, 15.5, 17, 19, 20.5, 22.5, 24.5, 27, 30, 34,
            38.5, 44, 50, 55.5, 60.5, 66, 71.5, 77.5, 83, 87.5,
            91, 94, 96.5, 98, 99, 99.5, 100, 100, 100, 100,
            100, 100, 100, 100, 100, 100, 100, 100, 100, 100,
            100]
ca_m_c10_err = [3, 3.5, 4, 4.5, 5, 5.5, 6, 6.5, 7, 7.5,
                8, 8, 8, 8, 8, 8, 7.5, 7, 6.5, 6,
                5.5, 5, 4.5, 4, 3.5, 3, 2.5, 2, 2, 1.5,
                1.5, 1.5, 1.5, 1.5, 1.5, 1.5, 1.5, 1.5, 1.5, 1.5,
                1.5]
ca_m_c50 = [12, 13.5, 15, 16.5, 18, 19.5, 21, 23.5, 27, 31,
            33.5, 36.5, 40, 43, 45.5, 48, 52.5, 56.5, 60.5, 64.5,
            68, 71.5, 74.5, 77, 80, 82, 84, 86, 88, 89,
            90.5, 92, 93, 93.5, 94.5, 95, 95.5, 96, 96.5, 96.5,
            97]
ca_m_c50_err = [2, 3, 4, 5, 6, 7, 8, 9, 10, 10.5,
                11, 11.5, 12, 12, 12, 12, 12, 12, 12, 12,
                12, 12, 11.5, 11, 10.5, 10, 10, 9.5, 9, 8.5,
                8, 7.5, 7, 6.5, 6, 5.5, 5, 5, 4.5, 4.5,
                4]
ca_m_c100 = [11.5, 12.5, 14, 15.5, 17, 18.5, 20, 21.5, 23, 24,
             25, 25.5, 26, 26.5, 27, 28.5, 30, 31, 32, 33.5,
             35, 36, 37.5, 39, 40, 41, 42, 43, 44, 44.5,
             46, 47, 48.5, 49.5, 50.5, 52, 53, 54, 54.5, 54.5,
             54.5]
ca_m_c100_err = [3, 5, 6, 7, 8, 9, 9, 10, 10, 10,
                 11, 11, 11, 11, 12, 12, 13, 13, 14, 14,
                 14, 15, 15, 15, 15, 16, 16, 16, 16, 17,
                 17, 17, 17, 17, 17, 17, 17, 17, 17, 17,
                 18]

panels = [
    [[(t6_k_c0, t6_k_c0_err), (t6_k_c1, t6_k_c1_err), (t6_k_c5, t6_k_c5_err),
      (t6_k_c10, t6_k_c10_err), (t6_k_c50, t6_k_c50_err), (t6_k_c100, t6_k_c100_err)],
     [(ht_k_c0, ht_k_c0_err), (ht_k_c1, ht_k_c1_err), (ht_k_c5, ht_k_c5_err),
      (ht_k_c10, ht_k_c10_err), (ht_k_c50, ht_k_c50_err), (ht_k_c100, ht_k_c100_err)],
     [(ca_k_c0, ca_k_c0_err), (ca_k_c1, ca_k_c1_err), (ca_k_c5, ca_k_c5_err),
      (ca_k_c10, ca_k_c10_err), (ca_k_c50, ca_k_c50_err), (ca_k_c100, ca_k_c100_err)]],
    [[(t6_n_c0, t6_n_c0_err), (t6_n_c1, t6_n_c1_err), (t6_n_c5, t6_n_c5_err),
      (t6_n_c10, t6_n_c10_err), (t6_n_c50, t6_n_c50_err), (t6_n_c100, t6_n_c100_err)],
     [(ht_n_c0, ht_n_c0_err), (ht_n_c1, ht_n_c1_err), (ht_n_c5, ht_n_c5_err),
      (ht_n_c10, ht_n_c10_err), (ht_n_c50, ht_n_c50_err), (ht_n_c100, ht_n_c100_err)],
     [(ca_n_c0, ca_n_c0_err), (ca_n_c1, ca_n_c1_err), (ca_n_c5, ca_n_c5_err),
      (ca_n_c10, ca_n_c10_err), (ca_n_c50, ca_n_c50_err), (ca_n_c100, ca_n_c100_err)]],
    [[(t6_m_c0, t6_m_c0_err), (t6_m_c1, t6_m_c1_err), (t6_m_c5, t6_m_c5_err),
      (t6_m_c10, t6_m_c10_err), (t6_m_c50, t6_m_c50_err), (t6_m_c100, t6_m_c100_err)],
     [(ht_m_c0, ht_m_c0_err), (ht_m_c1, ht_m_c1_err), (ht_m_c5, ht_m_c5_err),
      (ht_m_c10, ht_m_c10_err), (ht_m_c50, ht_m_c50_err), (ht_m_c100, ht_m_c100_err)],
     [(ca_m_c0, ca_m_c0_err), (ca_m_c1, ca_m_c1_err), (ca_m_c5, ca_m_c5_err),
      (ca_m_c10, ca_m_c10_err), (ca_m_c50, ca_m_c50_err), (ca_m_c100, ca_m_c100_err)]],
]

W, H = 1240, 877
fig = plt.figure(figsize=(W / 100, H / 100), dpi=100)
plt.rcParams['font.family'] = ['Liberation Sans', 'DejaVu Sans']

# panel boxes in pixels (left, right) and (top, bottom)
col_px = [(118, 460), (513, 857), (908, 1230)]
col_xlim = [(-6.4, 130.4), (-6.4, 131.7), (-5.6, 123.2)]
row_px = [(73, 280), (323, 530), (575, 780)]

t = np.array(time_h)
for r in range(3):
    for c in range(3):
        x0, x1 = col_px[c]
        y0, y1 = row_px[r]
        ax = fig.add_axes([x0 / W, 1 - y1 / H, (x1 - x0) / W, (y1 - y0) / H])
        ax.set_facecolor('#EBEBEB')
        for s in ax.spines.values():
            s.set_visible(False)
        ax.set_xlim(*col_xlim[c])
        ax.set_ylim(-5.5, 110.5)
        ax.set_xticks([0, 40, 80, 120])
        ax.set_yticks([0, 25, 50, 75, 100])
        ax.set_xticks([20, 60, 100], minor=True)
        ax.set_yticks([12.5, 37.5, 62.5, 87.5], minor=True)
        ax.grid(True, which='major', color='white', lw=1.1)
        ax.grid(True, which='minor', color='white', lw=0.5)
        ax.set_axisbelow(True)
        ax.tick_params(which='major', length=3, width=0.8, color='#333333',
                       labelcolor='#4D4D4D', labelsize=8.5, pad=2)
        ax.tick_params(which='minor', length=0)

        series = panels[r][c]
        # lines
        for i, (vals, err) in enumerate(series):
            if i == 0:
                ax.plot(t, vals, color='black', lw=1.2, ls=(0, (1, 2)), zorder=3)
            else:
                ax.plot(t, vals, color=conc_colors[i], lw=2.3, zorder=3 + i * 0.01)
        # error bars
        for i, (vals, err) in enumerate(series):
            ax.errorbar(t, vals, yerr=err, fmt='none', ecolor='black',
                        elinewidth=0.8, capsize=1.6, capthick=0.8, zorder=4)
        # points
        for i, (vals, err) in enumerate(series):
            if i == 0:
                ax.plot(t, vals, 'o', ms=4.6, mfc='black', mec='black', zorder=5)
            else:
                ax.plot(t, vals, 'o', ms=3.9, mfc=conc_colors[i], mec='#1a1a1a',
                        mew=0.6, zorder=5 + i * 0.01)

        if c == 0:
            ax.set_ylabel('Confluence (%)', fontsize=10, color='black', labelpad=4)
        if r == 2:
            ax.set_xlabel('Time (h)', fontsize=10, color='black', labelpad=13)

# overlay for titles, legend and screenshot separators
ov = fig.add_axes([0, 0, 1, 1], zorder=10)
ov.set_xlim(0, W)
ov.set_ylim(H, 0)
ov.axis('off')
ov.patch.set_alpha(0)

title_x = [285, 672, 1068]
for name, x in zip(cell_lines, title_x):
    ov.text(x, 36, name, fontsize=27, ha='center', va='center', family='Lato')
row_y = [193, 441, 690]
for name, y in zip(row_labels, row_y):
    ov.text(33, y, name, fontsize=39, ha='center', va='center', family='Lato')

sep = '#C8C8C8'
for xa, xb in [(67, 463), (486, 858), (882, 1240)]:
    ov.plot([xa, xb], [570, 570], color=sep, lw=1.0)
ov.plot([368, 465], [832, 832], color=sep, lw=0.8)
ov.plot([368, 465], [838, 838], color=sep, lw=0.8)
ov.plot([465, 465], [838, 877], color=sep, lw=0.8)
ov.plot([588, 588], [833, 877], color=sep, lw=0.8)
ov.plot([588, 645], [833, 833], color=sep, lw=0.8)
ov.plot([594, 594], [838, 877], color=sep, lw=0.8)
ov.plot([657, 657], [835, 862], color=sep, lw=0.8)
ov.plot([742, 742], [835, 860], color=sep, lw=0.8)
ov.plot([833, 833], [850, 877], color=sep, lw=0.8)

# legend
ov.text(528, 853, 'Concentration [µM]', fontsize=9.5, ha='center', va='center')
key_x = [(597, 617), (661, 681), (706, 726), (746, 766), (790, 810), (836, 856)]
lab_x = [619, 687, 731, 770, 815, 861]
for i, ((ka, kb), lx) in enumerate(zip(key_x, lab_x)):
    ov.add_patch(plt.Rectangle((ka, 842), kb - ka, 22, color='#F2F2F2', lw=0))
    xm = (ka + kb) / 2
    if i == 0:
        ov.plot([ka + 2, kb - 2], [853, 853], color='black', lw=1.5, ls=(0, (1, 2)))
        ov.plot([xm], [853], 'o', ms=4, color='black')
    else:
        ov.plot([ka + 1, kb - 1], [853, 853], color=conc_colors[i], lw=2)
        ov.plot([xm], [853], 'o', ms=3.4, mfc=conc_colors[i], mec='#1a1a1a', mew=0.6)
    ov.text(lx, 853, conc_labels[i], fontsize=7.5, ha='left', va='center')

fig.savefig('out.png', dpi=100)
